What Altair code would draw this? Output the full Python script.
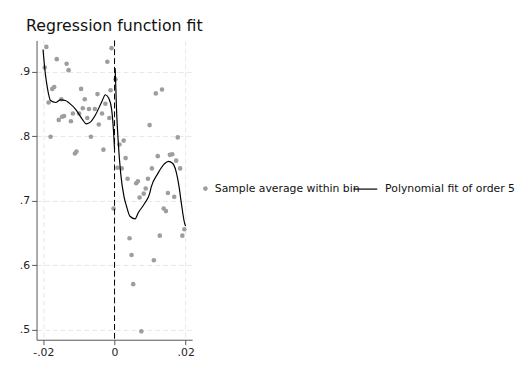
import altair as alt
import pandas as pd

# Binned sample averages (x = running variable, y = outcome)
bin_x = [-0.01914, -0.01961, -0.01622, -0.01345, -0.0129, -0.00083, -0.00202,
         -0.01693, -0.01749, -0.00939, -0.00837, -0.00478, -0.0011, -0.01851,
         -0.01492, -0.00257, -0.00892, -0.00718, -0.00552, -0.00351, -0.01169,
         -0.00994, -0.01417, -0.01472, -0.01566, -0.01224, -0.00765, -0.00146,
         -0.00442, -0.01796, -0.00663, -0.01069, -0.01113, -0.00312, -0.00028,
         0.00028, 0.00083, 0.00202, 0.00138, 0.00257, 0.00312, 0.00367, 0.00423,
         0.00478, 0.00525, 0.00608, 0.00655, 0.00704, 0.00754, 0.0082, 0.00876,
         0.00939, 0.00986, 0.0105, 0.01105, 0.0116, 0.01215, 0.01271, 0.01334,
         0.01381, 0.01445, 0.015, 0.01555, 0.01622, 0.01677, 0.01732, 0.01776,
         0.01843, 0.01906, 0.01961]
bin_y = [0.938, 0.906, 0.919, 0.912, 0.902, 0.936, 0.915,
         0.876, 0.873, 0.873, 0.857, 0.865, 0.871, 0.852,
         0.857, 0.850, 0.843, 0.842, 0.842, 0.835, 0.835,
         0.835, 0.831, 0.830, 0.825, 0.823, 0.828, 0.828,
         0.818, 0.799, 0.799, 0.776, 0.773, 0.779, 0.688,
         0.888, 0.751, 0.750, 0.787, 0.793, 0.766, 0.734, 0.642,
         0.616, 0.571, 0.727, 0.730, 0.705, 0.498, 0.711, 0.719,
         0.734, 0.817, 0.750, 0.608, 0.866, 0.769, 0.646, 0.872,
         0.688, 0.684, 0.712, 0.771, 0.772, 0.706, 0.762, 0.798,
         0.750, 0.646, 0.656]

# Polynomial fit (order 5), left and right of the cutoff
fit_left_x = [-0.02008, -0.01953, -0.01887, -0.01796, -0.01657, -0.01519, -0.01381,
              -0.01271, -0.01086, -0.00903, -0.00793, -0.00671, -0.00533, -0.00351,
              -0.00257, -0.00166, -0.00083, -0.00028, 0.0]
fit_left_y = [0.934, 0.901, 0.875, 0.855, 0.852, 0.856, 0.855,
              0.851, 0.841, 0.826, 0.819, 0.822, 0.833, 0.854,
              0.864, 0.859, 0.842, 0.808, 0.780]
fit_right_x = [0.00019, 0.00055, 0.00102, 0.00174, 0.00268, 0.0034, 0.00434,
               0.0058, 0.00663, 0.00848, 0.00986, 0.0103, 0.01215, 0.014,
               0.01511, 0.0163, 0.01721, 0.01815, 0.01878, 0.0197, 0.01997]
fit_right_y = [0.905, 0.8435, 0.793, 0.742, 0.706, 0.691, 0.676,
               0.672, 0.681, 0.696, 0.711, 0.721, 0.742, 0.757,
               0.761, 0.758, 0.747, 0.721, 0.696, 0.665, 0.661]

x_ticks = [-0.02, -0.01, 0.0, 0.01, 0.02]
y_ticks = [0.5, 0.6, 0.7, 0.8, 0.9]

pts = pd.DataFrame({"x": bin_x, "y": bin_y, "series": "Sample average within bin"})
fit = pd.DataFrame({
    "x": fit_left_x + fit_right_x,
    "y": fit_left_y + fit_right_y,
    "side": ["left"] * len(fit_left_x) + ["right"] * len(fit_right_x),
    "series2": "Polynomial fit of order 5",
})
cut = pd.DataFrame({"x": [0.0]})

FONT = "DejaVu Sans"
xscale = alt.Scale(domain=[-0.0219, 0.0218], nice=False, zero=False)
yscale = alt.Scale(domain=[0.485, 0.948], nice=False, zero=False)

xaxis = alt.Axis(
    values=x_ticks, title=None,
    labelExpr="datum.value == 0 ? '0' : (datum.value < 0 ? '-' : '') + replace(format(abs(datum.value), '.2f'), '0.', '.')",
    grid=True, gridDash=[5, 3], gridColor="#e6e6e6",
)
yaxis = alt.Axis(
    values=y_ticks, title=None,
    labelExpr="replace(format(datum.value, '.1f'), '0.', '.')",
    grid=True, gridDash=[5, 3], gridColor="#e6e6e6",
)

points = alt.Chart(pts).mark_circle(size=22, opacity=1).encode(
    x=alt.X("x:Q", scale=xscale, axis=xaxis),
    y=alt.Y("y:Q", scale=yscale, axis=yaxis),
    color=alt.Color("series:N", scale=alt.Scale(range=["#9e9e9e"]),
                    legend=alt.Legend(orient="none", legendX=166, legendY=145,
                                      title=None, symbolSize=22, labelOffset=4,
                                      padding=0, symbolType="circle")),
)

rule = alt.Chart(cut).mark_rule(color="black", strokeDash=[6, 3], strokeWidth=1).encode(
    x=alt.X("x:Q", scale=xscale),
)

curve = alt.Chart(fit).mark_line(strokeWidth=1.2, interpolate="monotone").encode(
    x=alt.X("x:Q", scale=xscale),
    y=alt.Y("y:Q", scale=yscale),
    detail="side:N",
    color=alt.Color("series2:N", scale=alt.Scale(range=["black"]),
                    legend=alt.Legend(orient="none", legendX=321, legendY=138,
                                      title=None, symbolSize=576, labelOffset=7,
                                      padding=0, symbolStrokeWidth=1.2)),
)

chart = alt.layer(points, rule, curve).resolve_scale(color="independent").properties(
    width=158, height=304,
    autosize=alt.AutoSizeParams(type="none"),
    padding={"left": 29, "top": 30, "right": 333, "bottom": 40},
    title=alt.TitleParams("Regression function fit", font=FONT, fontSize=16,
                          fontWeight="normal", color="#111111", anchor="middle", offset=6),
).configure_axis(
    labelFont=FONT, labelFontSize=11, labelColor="#222222",
    domainColor="#555555", tickColor="#555555", tickSize=5, labelPadding=2,
).configure_legend(
    labelFont=FONT, labelFontSize=11, labelColor="#111111",
).configure_view(stroke=None)

chart.save("out.html", embed_options={"renderer": "svg", "actions": False})
